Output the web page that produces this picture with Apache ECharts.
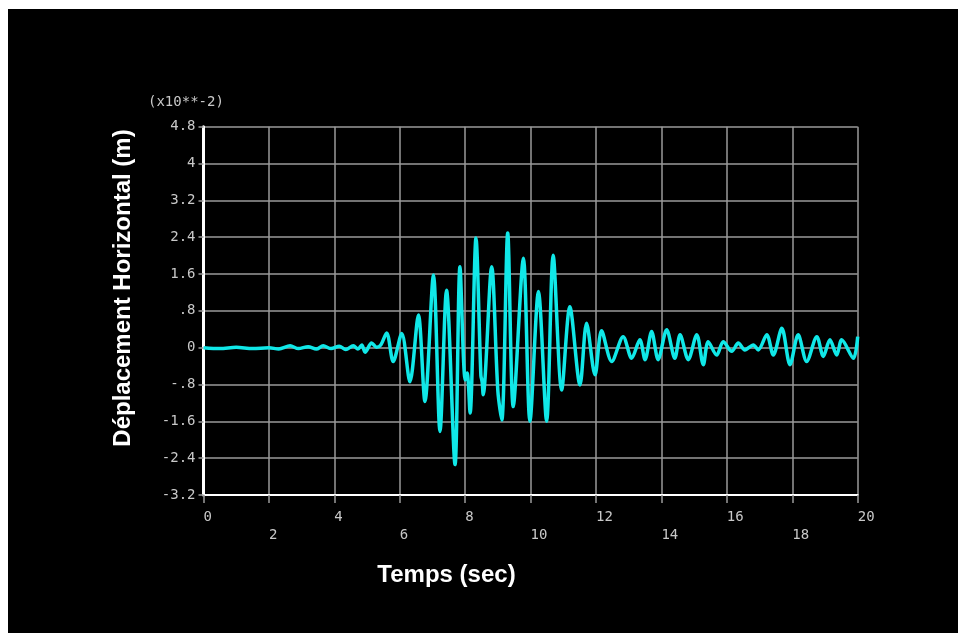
<!DOCTYPE html>
<html>
<head>
<meta charset="utf-8">
<script src="https://cdn.jsdelivr.net/npm/echarts@6/dist/echarts.min.js"></script>
<style>
html,body{margin:0;padding:0;background:#ffffff;}
#chart{position:absolute;left:8px;top:9px;width:950px;height:624px;background:#000;}
</style>
</head>
<body>
<div id="chart"></div>
<script>
// Time (s) of each traced turning point of the displacement record
const times = [
  0, 0.5, 1.0, 1.5, 2.0, 2.3, 2.65, 2.9, 3.2, 3.45, 3.66, 3.9, 4.15, 4.35, 4.58, 4.72, 4.84, 4.94, 5.14, 5.29, 5.42, 5.6, 5.8, 6.06, 6.31,
  6.57, 6.77, 7.03, 7.23, 7.43, 7.69, 7.84, 8.0, 8.06, 8.15, 8.33, 8.48, 8.52, 8.55, 8.81, 9.0, 9.12, 9.30, 9.47,
  9.78, 9.98, 10.24, 10.49, 10.69, 10.95, 11.20, 11.51, 11.71, 11.97, 12.17, 12.48, 12.83, 13.09, 13.34,
  13.50, 13.70, 13.90, 14.16, 14.41, 14.57, 14.82, 15.08, 15.28, 15.43, 15.69, 15.89, 16.15, 16.35, 16.55,
  16.81, 16.96, 17.22, 17.42, 17.68, 17.93, 18.18, 18.44, 18.75, 18.95, 19.15, 19.36, 19.51, 19.87, 20.0
];
// Horizontal displacement (x10^-2 m) at each time above
const displacement = [
  0, -0.02, 0.01, -0.02, 0.0, -0.03, 0.04, -0.02, 0.02, -0.03, 0.04, -0.02, 0.03, -0.04, 0.04, -0.03, 0.06, -0.10, 0.10, 0.01, 0.06, 0.32, -0.30, 0.31, -0.74,
  0.71, -1.17, 1.58, -1.82, 1.25, -2.54, 1.76, -0.70, -0.55, -1.42, 2.38, -0.60, -0.75, -1.02, 1.76, -0.95, -1.57, 2.49, -1.28,
  1.94, -1.60, 1.22, -1.60, 2.01, -0.92, 0.89, -0.81, 0.53, -0.59, 0.37, -0.30, 0.24, -0.23, 0.17,
  -0.26, 0.35, -0.26, 0.39, -0.23, 0.28, -0.26, 0.28, -0.37, 0.13, -0.16, 0.13, -0.08, 0.10, -0.05,
  0.06, -0.05, 0.28, -0.16, 0.42, -0.37, 0.28, -0.30, 0.24, -0.19, 0.17, -0.16, 0.17, -0.23, 0.24
];
const yTicks = [-3.2, -2.4, -1.6, -0.8, 0, 0.8, 1.6, 2.4, 3.2, 4, 4.8];
const xTicks = [0, 2, 4, 6, 8, 10, 12, 14, 16, 18, 20];
const scaleNote = '(x10**-2)';
const yName = 'Déplacement Horizontal (m)';
const xName = 'Temps (sec)';

const points = times.map((t, i) => [t, displacement[i]]);

const chart = echarts.init(document.getElementById('chart'), null, {renderer: 'canvas'});
const mono = 'DejaVu Sans Mono';
const labelGray = '#c8c8c8';
const gridGray = '#9a9a9a';

chart.setOption({
  backgroundColor: '#000000',
  animation: false,
  grid: {left: 195.5, right: 100.3, top: 117.7, bottom: 138, containLabel: false},
  xAxis: {
    type: 'value',
    min: xTicks[0], max: xTicks[xTicks.length - 1], interval: 2,
    axisLine: {show: true, onZero: false, lineStyle: {color: '#ffffff', width: 2}},
    axisTick: {show: true, length: 8, lineStyle: {color: gridGray, width: 1.5}},
    splitLine: {show: true, lineStyle: {color: gridGray, width: 1.5}},
    axisLabel: {
      color: labelGray, fontFamily: mono, fontSize: 14, margin: 13,
      align: 'left', lineHeight: 18,
      formatter: v => (Math.round(v) % 4 === 0 ? String(Math.round(v)) : '\n' + Math.round(v))
    }
  },
  yAxis: {
    type: 'value',
    min: yTicks[0], max: yTicks[yTicks.length - 1], interval: 0.8,
    axisLine: {show: true, onZero: false, lineStyle: {color: '#ffffff', width: 3}},
    axisTick: {show: true, length: 5, lineStyle: {color: gridGray, width: 1.5}},
    splitLine: {show: true, lineStyle: {color: gridGray, width: 1.5}},
    axisLabel: {
      color: labelGray, fontFamily: mono, fontSize: 14, margin: 8,
      formatter: v => {
        const r = Math.round(v * 10) / 10;
        return String(r).replace(/^(-?)0\./, '$1.');
      }
    }
  },
  graphic: [
    {type: 'text', left: 140, top: 86, style: {text: scaleNote, fill: labelGray, font: '14px "DejaVu Sans Mono"'}},
    {type: 'text', x: 115, y: 279, rotation: Math.PI / 2,
     style: {text: yName, fill: '#ffffff', font: 'bold 24px "Liberation Sans", Arial', align: 'center', verticalAlign: 'middle'}},
    {type: 'text', x: 438.5, y: 566,
     style: {text: xName, fill: '#ffffff', font: 'bold 24px "Liberation Sans", Arial', align: 'center', verticalAlign: 'middle'}}
  ],
  series: [{
    type: 'line',
    data: points,
    showSymbol: false,
    smooth: 0.3,
    lineStyle: {color: '#10e8e8', width: 3.5},
    z: 5
  }]
});
</script>
</body>
</html>
